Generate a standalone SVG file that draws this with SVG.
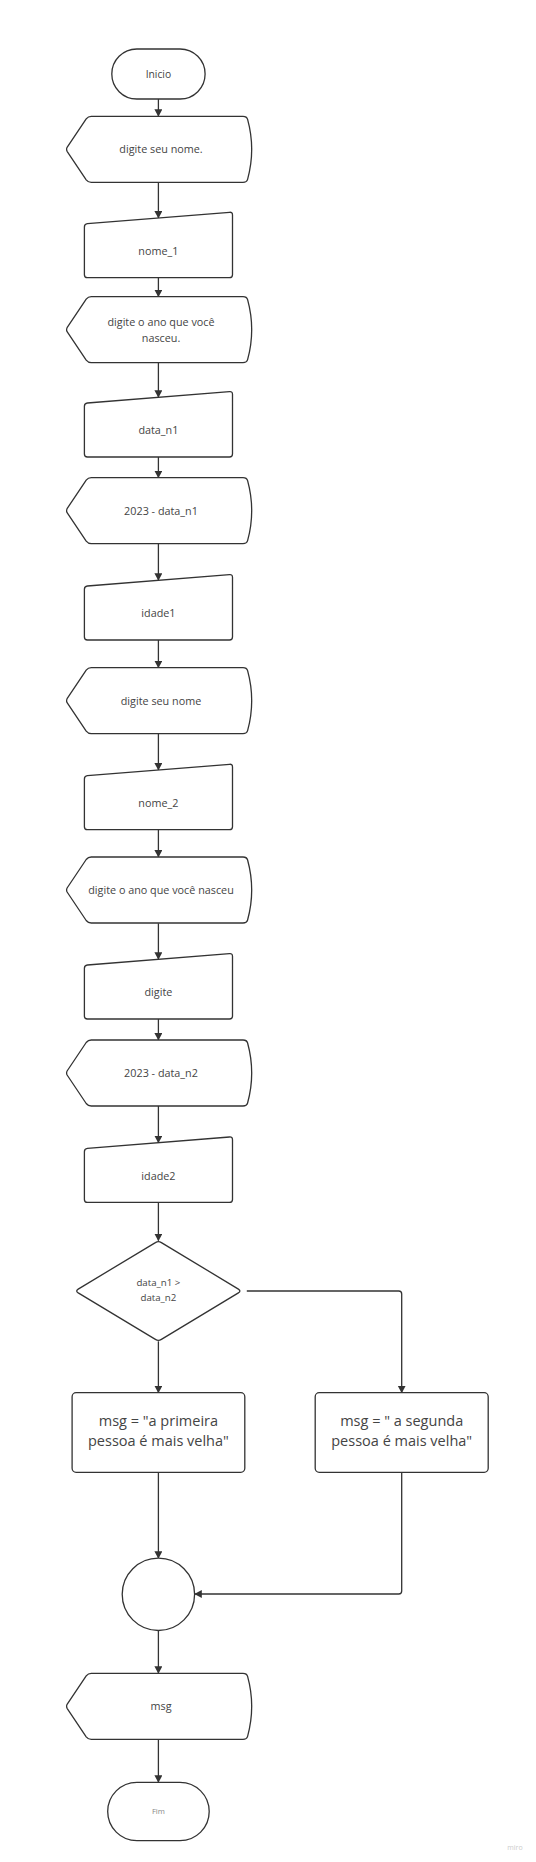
<svg xmlns="http://www.w3.org/2000/svg" xmlns:xlink="http://www.w3.org/1999/xlink" width="536" height="1862" viewBox="0 0 536 1862">
<style>
.s{fill:#fff;stroke:#333;stroke-width:1.3;stroke-linejoin:round}
.c{fill:none;stroke:#333;stroke-width:1.3}
.t{font-family:"Open Sans","Noto Sans",sans-serif;fill:#444;text-anchor:middle;dominant-baseline:central}
</style>
<defs>
<marker id="ah" markerUnits="userSpaceOnUse" markerWidth="10" markerHeight="10" refX="7" refY="4" orient="auto">
<path d="M0,0 L7.5,4 L0,8 Z" fill="#333"/>
</marker>
<path id="disp" d="M91.2,0 L243,0 Q246.8,0 247.6,3 Q255.8,33 247.6,63 Q246.8,66 243,66 L91.2,66 Q88.2,66 86.2,63.5 L67.1,35 Q66.1,33 67.1,31 L86.2,2.5 Q88.2,0 91.2,0 Z"/>
<path id="man" d="M84.4,15 Q84.4,12 87.4,11.7 L229.5,0.3 Q232.5,0 232.5,3 L232.5,62.7 Q232.5,65.7 229.5,65.7 L87.4,65.7 Q84.4,65.7 84.4,62.7 Z"/>
</defs>
<rect width="536" height="1862" fill="#fff"/>
<g id="connectors" class="c" marker-end="url(#ah)">
<path d="M158.4,99 V116.3"/>
<path d="M158.4,182 V218"/>
<path d="M158.4,277.7 V296.7"/>
<path d="M158.4,362.7 V397.3"/>
<path d="M158.4,456.7 V477.7"/>
<path d="M158.4,544 V580.3"/>
<path d="M158.4,639.7 V667.7"/>
<path d="M158.4,734 V770"/>
<path d="M158.4,829.3 V857"/>
<path d="M158.4,923.3 V959.3"/>
<path d="M158.4,1019 V1040"/>
<path d="M158.4,1106 V1142.7"/>
<path d="M158.4,1202 V1240.7"/>
<path d="M158.4,1341.3 V1392.7"/>
<path d="M246.8,1291 H398.7 Q401.7,1291 401.7,1294 V1392.7"/>
<path d="M158.4,1472.3 V1558.3"/>
<path d="M401.7,1472.3 V1591 Q401.7,1594 398.7,1594 H194.8"/>
<path d="M158.4,1630.3 V1673.3"/>
<path d="M158.4,1739.3 V1782.3"/>
</g>
<g id="inicio"><rect class="s" x="111.8" y="49" width="93.3" height="50" rx="25"/><text class="t" x="158.4" y="73.5" font-size="10.3">Inicio</text></g>
<g id="out1"><use href="#disp" class="s" y="116.3"/><text class="t" x="161" y="148.5" font-size="10.8">digite seu nome.</text></g>
<g id="in1"><use href="#man" class="s" y="212"/><text class="t" x="158.4" y="250" font-size="10.8">nome_1</text></g>
<g id="out2"><use href="#disp" class="s" y="296.7"/><text class="t" x="161" y="321" font-size="10.8">digite o ano que você</text><text class="t" x="161" y="337" font-size="10.8">nasceu.</text></g>
<g id="in2"><use href="#man" class="s" y="391.3"/><text class="t" x="158.4" y="429" font-size="10.8">data_n1</text></g>
<g id="out3"><use href="#disp" class="s" y="477.7"/><text class="t" x="161" y="510" font-size="10.8">2023 - data_n1</text></g>
<g id="in3"><use href="#man" class="s" y="574.3"/><text class="t" x="158.4" y="612" font-size="10.8">idade1</text></g>
<g id="out4"><use href="#disp" class="s" y="667.7"/><text class="t" x="161" y="700" font-size="10.8">digite seu nome</text></g>
<g id="in4"><use href="#man" class="s" y="764"/><text class="t" x="158.4" y="802" font-size="10.8">nome_2</text></g>
<g id="out5"><use href="#disp" class="s" y="857"/><text class="t" x="161" y="889" font-size="10.8">digite o ano que você nasceu</text></g>
<g id="in5"><use href="#man" class="s" y="953.3"/><text class="t" x="158.4" y="991.5" font-size="10.8">digite</text></g>
<g id="out6"><use href="#disp" class="s" y="1040"/><text class="t" x="161" y="1072" font-size="10.8">2023 - data_n2</text></g>
<g id="in6"><use href="#man" class="s" y="1136.7"/><text class="t" x="158.4" y="1175" font-size="10.8">idade2</text></g>
<g id="decision"><path class="s" d="M155.4,1242.6 Q158.4,1240.7 161.4,1242.6 L238.4,1289.1 Q241.4,1291 238.4,1292.9 L161.4,1339.4 Q158.4,1341.3 155.4,1339.4 L78.2,1292.9 Q75.2,1291 78.2,1289.1 Z"/><text class="t" x="158.4" y="1282" font-size="9.7">data_n1 &gt;</text><text class="t" x="158.4" y="1297.5" font-size="9.7">data_n2</text></g>
<g id="msg1"><rect class="s" x="72.1" y="1392.7" width="172.7" height="79.6" rx="4"/><text class="t" x="158.4" y="1420.5" font-size="14.5">msg = "a primeira</text><text class="t" x="158.4" y="1440" font-size="14.5">pessoa é mais velha"</text></g>
<g id="msg2"><rect class="s" x="315.2" y="1392.7" width="173" height="79.6" rx="4"/><text class="t" x="401.7" y="1420.5" font-size="14.5">msg = " a segunda</text><text class="t" x="401.7" y="1440" font-size="14.5">pessoa é mais velha"</text></g>
<g id="join"><circle class="s" cx="158.4" cy="1594.3" r="36.2"/></g>
<g id="out7"><use href="#disp" class="s" y="1673.3"/><text class="t" x="161" y="1705.5" font-size="10.8">msg</text></g>
<g id="fim"><rect class="s" x="107.7" y="1782.3" width="101.5" height="58.4" rx="29.2"/><text class="t" x="158.4" y="1811" font-size="7.7" style="fill:#888">Fim</text></g>
<text class="t" x="515" y="1847" font-size="7" style="fill:#ccc">miro</text>
</svg>
